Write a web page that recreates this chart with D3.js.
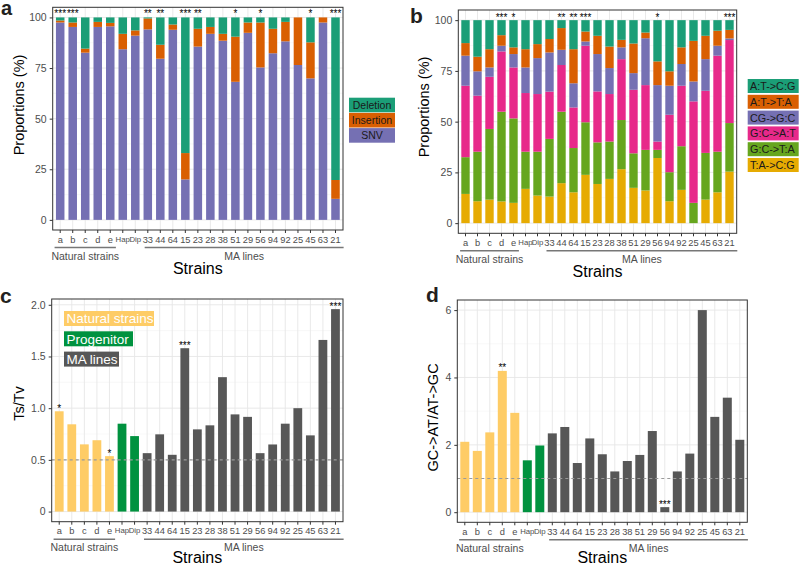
<!DOCTYPE html>
<html>
<head>
<meta charset="utf-8">
<script src="https://cdn.jsdelivr.net/npm/d3@7"></script>
<style>
  body { margin: 0; background: #fff; }
  svg { font-family: "Liberation Sans", Arial, sans-serif; }
</style>
</head>
<body>
<div id="fig"></div>
<script>
// strains on the x axis, shared by all four panels
const strains = ["a","b","c","d","e","Hap","Dip","33","44","64","15","23","28","38","51","29","56","94","92","25","45","63","21"];
const strainGroup = ["Natural strains","Natural strains","Natural strains","Natural strains","Natural strains",
  "Progenitor","Progenitor",
  "MA lines","MA lines","MA lines","MA lines","MA lines","MA lines","MA lines","MA lines",
  "MA lines","MA lines","MA lines","MA lines","MA lines","MA lines","MA lines","MA lines"];

// panel a: proportions (%)
const snv       = [97.5,95.3,82.6,95.3,95.6,84.3,91.0,94.1,79.6,93.9,20.0,85.6,91.9,88.5,68.2,92.4,75.3,82.3,88.2,76.5,69.9,97.5,10.4];
const insertion = [1.0,2.2,2.0,2.5,1.7,7.6,2.6,5.4,6.9,2.6,13.0,8.8,3.4,3.4,22.3,5.1,22.2,12.1,9.6,23.5,17.8,2.5,9.3];
const deletion  = [1.5,2.5,15.4,2.2,2.7,8.1,6.4,0.5,13.5,3.5,67.0,5.6,4.7,8.1,9.5,2.5,2.5,5.6,2.2,0.0,12.3,0.0,80.3];
const starsA = ["***","***","","","","","","**","**","","***","**","","","*","","*","","","","*","","***"];

// panel b: proportions (%) of each substitution
const taCg = [14.4,10.8,11.6,10.7,10.0,16.9,13.6,13.1,19.7,15.2,23.8,19.3,21.8,26.6,17.4,16.1,32.1,10.8,16.4,0.0,11.6,15.2,25.4];
const gcTa = [18.1,24.4,34.8,44.2,41.6,18.3,21.6,28.4,35.2,21.8,25.9,20.5,18.4,24.2,17.0,20.0,4.0,14.3,21.5,10.0,23.0,20.0,23.9];
const gcAt = [35.2,27.6,25.7,29.7,25.1,28.9,28.4,23.3,23.0,20.0,37.7,25.1,23.4,30.0,31.3,31.9,4.1,28.3,29.8,50.0,30.6,47.3,40.9];
const cgGc = [14.8,12.0,4.6,2.8,6.6,12.6,17.7,19.3,7.5,11.9,2.1,18.4,12.8,5.8,8.2,23.1,27.8,14.3,10.7,9.8,15.6,4.9,0.8];
const atTa = [6.2,7.2,9.0,5.2,3.3,9.0,6.9,6.6,10.7,16.8,4.9,9.0,10.6,3.7,14.6,2.8,11.7,7.1,8.2,20.0,11.5,7.4,4.2];
const atCg = [11.3,18.0,14.3,7.4,13.4,14.3,11.8,9.3,3.9,14.3,5.6,7.7,13.0,9.7,11.5,6.1,20.3,25.2,13.4,10.2,7.7,5.2,4.8];
const starsB = ["","","","***","*","","","","**","**","***","","","","","","*","","","","","","***"];

// panel c: Ts/Tv
const tsTv = [0.97,0.844,0.65,0.69,0.536,0.85,0.73,0.565,0.747,0.549,1.58,0.795,0.834,1.30,0.94,0.916,0.565,0.649,0.85,1.0,0.737,1.66,1.958];
const starsC = ["*","","","","*","","","","","","***","","","","","","","","","","","","***"];

// panel d: GC->AT / AT->GC
const gcRatio = [2.09,1.82,2.37,4.195,2.95,1.54,1.98,2.34,2.53,1.46,2.19,1.72,1.21,1.52,1.70,2.41,0.15,1.21,1.74,6.0,2.83,3.4,2.15];
const starsD = ["","","","**","","","","","","","","","","","","","***","","","","","",""];

const W = 799, H = 567;
const svg = d3.select('#fig').append('svg').attr('width', W).attr('height', H);

const axisGrey = "#4d4d4d";

function makePanel(box, yDomain, yTicks, yMinor, yFmt) {
    const x = d3.scaleBand().domain(strains).range([box.left, box.right])
                .paddingInner(0).paddingOuter(0.1);
    const y = d3.scaleLinear().domain(yDomain).range([box.bottom, box.top]);
    const g = svg.append('g');

    g.append('rect')
        .attr('x', box.left).attr('y', box.top)
        .attr('width', box.right - box.left).attr('height', box.bottom - box.top)
        .attr('fill', '#fff');

    g.selectAll('.minor').data(yMinor).enter().append('line')
        .attr('x1', box.left).attr('x2', box.right)
        .attr('y1', d => y(d)).attr('y2', d => y(d))
        .attr('stroke', '#f3f3f3').attr('stroke-width', 0.6);
    g.selectAll('.major').data(yTicks).enter().append('line')
        .attr('x1', box.left).attr('x2', box.right)
        .attr('y1', d => y(d)).attr('y2', d => y(d))
        .attr('stroke', '#e6e6e6').attr('stroke-width', 0.9);
    g.selectAll('.vgrid').data(strains).enter().append('line')
        .attr('x1', d => x(d) + x.bandwidth() / 2).attr('x2', d => x(d) + x.bandwidth() / 2)
        .attr('y1', box.top).attr('y2', box.bottom)
        .attr('stroke', '#e6e6e6').attr('stroke-width', 0.9);

    const bars = svg.append('g');
    const top = svg.append('g');

    top.append('rect')
        .attr('x', box.left).attr('y', box.top)
        .attr('width', box.right - box.left).attr('height', box.bottom - box.top)
        .attr('fill', 'none').attr('stroke', '#333').attr('stroke-width', 1);

    const yAxis = d3.axisLeft(y).tickValues(yTicks).tickSize(3).tickPadding(3).tickFormat(yFmt);
    const ya = top.append('g').attr('transform', 'translate(' + box.left + ',0)').call(yAxis);
    ya.select('.domain').remove();
    ya.selectAll('line').attr('stroke', '#333');
    ya.selectAll('text').attr('fill', axisGrey).style('font-size', '10.5px');

    const xAxis = d3.axisBottom(x).tickSize(3).tickPadding(3);
    const xa = top.append('g').attr('transform', 'translate(0,' + box.bottom + ')').call(xAxis);
    xa.select('.domain').remove();
    xa.selectAll('line').attr('stroke', '#333');
    xa.selectAll('text').attr('fill', axisGrey)
        .style('font-size', d => (d === 'Hap' || d === 'Dip') ? '7.8px' : '9.3px');

    // group brackets under the axis
    const s = x.step();
    const cx = d => x(d) + x.bandwidth() / 2;
    const lineY = box.bottom + 17.5;
    const nat = [cx('a') - 0.45 * s, cx('e') + 0.45 * s];
    const ma = [cx('33') - 0.25 * s, cx('21') + 0.65 * s];
    [nat, ma].forEach((r, i) => {
        top.append('line')
            .attr('x1', r[0]).attr('x2', r[1]).attr('y1', lineY).attr('y2', lineY)
            .attr('stroke', '#777').attr('stroke-width', 1.5);
        top.append('text')
            .attr('x', (r[0] + r[1]) / 2).attr('y', box.bottom + 29.5)
            .attr('text-anchor', 'middle').attr('fill', axisGrey)
            .style('font-size', '10.5px')
            .text(i === 0 ? 'Natural strains' : 'MA lines');
    });
    top.append('text')
        .attr('x', (box.left + box.right) / 2).attr('y', Math.min(box.bottom + 44, 562.5))
        .attr('text-anchor', 'middle').style('font-size', '16px')
        .text('Strains');

    return {x, y, bars, top, cx};
}

function yTitle(text, x, y) {
    svg.append('text')
        .attr('transform', 'translate(' + x + ',' + y + ') rotate(-90)')
        .attr('text-anchor', 'middle').style('font-size', '14.5px')
        .text(text);
}

function letter(text, x, y, size) {
    svg.append('text').attr('x', x).attr('y', y)
        .style('font-size', (size || 21) + 'px').style('font-weight', 'bold').attr('fill', '#231f20')
        .text(text);
}

const pct = d3.format('d');

// ---------- panel a ----------
const pa = makePanel({left: 52.7, right: 343, top: 7.3, bottom: 230}, [-5, 105],
    [0, 25, 50, 75, 100], [12.5, 37.5, 62.5, 87.5], pct);
const aColors = {snv: "#7570B3", ins: "#D95F02", del: "#1B9E77"};
const aRows = strains.map((s, i) => ({strain: s, snv: snv[i], ins: insertion[i], del: deletion[i]}));
const aStack = d3.stack().keys(['snv', 'ins', 'del'])(aRows);
const bwA = pa.x.bandwidth() * 0.68;
pa.bars.selectAll('g').data(aStack).enter().append('g')
    .attr('fill', d => aColors[d.key])
    .selectAll('rect').data(d => d).enter().append('rect')
    .attr('x', d => pa.cx(d.data.strain) - bwA / 2)
    .attr('width', bwA)
    .attr('y', d => pa.y(d[1]))
    .attr('height', d => pa.y(d[0]) - pa.y(d[1]));
pa.top.selectAll('.star').data(starsA).enter().append('text')
    .attr('x', (d, i) => pa.cx(strains[i])).attr('y', pa.y(100) - 0.5)
    .attr('text-anchor', 'middle').style('font-size', '10px').text(d => d);
yTitle('Proportions (%)', 24, 105);
letter('a', 1, 15, 20);

const aLegend = [["Deletion", aColors.del], ["Insertion", aColors.ins], ["SNV", aColors.snv]];
aLegend.forEach((d, i) => {
    svg.append('rect').attr('x', 349).attr('y', 97.7 + i * 15.2).attr('width', 46).attr('height', 14.6)
        .attr('fill', d[1]);
    svg.append('text').attr('x', 372).attr('y', 97.7 + i * 15.2 + 11)
        .attr('text-anchor', 'middle').style('font-size', '10.5px').attr('fill', '#1a1a1a').text(d[0]);
});

// ---------- panel b ----------
const pb = makePanel({left: 458.3, right: 736.7, top: 10, bottom: 233.3}, [-5, 105],
    [0, 25, 50, 75, 100], [12.5, 37.5, 62.5, 87.5], pct);
const bKeys = ['taCg', 'gcTa', 'gcAt', 'cgGc', 'atTa', 'atCg'];
const bColors = {taCg: "#E6AB02", gcTa: "#66A61E", gcAt: "#E7298A", cgGc: "#7570B3", atTa: "#D95F02", atCg: "#1B9E77"};
const bLabels = {taCg: "T:A->C:G", gcTa: "G:C->T:A", gcAt: "G:C->A:T", cgGc: "CG->G:C", atTa: "A:T->T:A", atCg: "A:T->C:G"};
const bRows = strains.map((s, i) => ({strain: s, taCg: taCg[i], gcTa: gcTa[i], gcAt: gcAt[i],
    cgGc: cgGc[i], atTa: atTa[i], atCg: atCg[i]}));
const bStack = d3.stack().keys(bKeys)(bRows);
const bwB = pb.x.bandwidth() * 0.7;
pb.bars.selectAll('g').data(bStack).enter().append('g')
    .attr('fill', d => bColors[d.key])
    .selectAll('rect').data(d => d).enter().append('rect')
    .attr('x', d => pb.cx(d.data.strain) - bwB / 2)
    .attr('width', bwB)
    .attr('y', d => pb.y(d[1]))
    .attr('height', d => pb.y(d[0]) - pb.y(d[1]));
pb.top.selectAll('.star').data(starsB).enter().append('text')
    .attr('x', (d, i) => pb.cx(strains[i])).attr('y', pb.y(100) + 0.5)
    .attr('text-anchor', 'middle').style('font-size', '10px').text(d => d);
yTitle('Proportions (%)', 429, 107);
letter('b', 410, 23);

bKeys.slice().reverse().forEach((k, i) => {
    svg.append('rect').attr('x', 747.7).attr('y', 79 + i * 15.8).attr('width', 51).attr('height', 14)
        .attr('fill', bColors[k]);
    svg.append('text').attr('x', 750).attr('y', 79 + i * 15.8 + 11)
        .style('font-size', '10.8px').attr('fill', '#1a1a1a').text(bLabels[k]);
});

// ---------- panel c ----------
const groupColor = {"Natural strains": "#FECC66", "Progenitor": "#00923F", "MA lines": "#575757"};
const pc = makePanel({left: 51.7, right: 343, top: 299, bottom: 521.7}, [-0.098, 2.056],
    [0, 0.5, 1, 1.5, 2], [0.25, 0.75, 1.25, 1.75], d => d === 0 ? '0' : d3.format('.1f')(d));
const bwC = pc.x.bandwidth() * 0.7;
pc.bars.selectAll('rect').data(tsTv).enter().append('rect')
    .attr('x', (d, i) => pc.cx(strains[i]) - bwC / 2)
    .attr('width', bwC)
    .attr('y', d => pc.y(d))
    .attr('height', d => pc.y(0) - pc.y(d))
    .attr('fill', (d, i) => groupColor[strainGroup[i]]);
pc.bars.append('line')
    .attr('x1', 51.7).attr('x2', 343).attr('y1', pc.y(0.5)).attr('y2', pc.y(0.5))
    .attr('stroke', '#9a9a9a').attr('stroke-width', 1.2).attr('stroke-dasharray', '3,3');
pc.top.selectAll('.star').data(starsC).enter().append('text')
    .attr('x', (d, i) => pc.cx(strains[i])).attr('y', (d, i) => pc.y(tsTv[i]) + 0.5)
    .attr('text-anchor', 'middle').style('font-size', '10px').text(d => d);
yTitle('Ts/Tv', 24, 403.5);
letter('c', 0, 303);

const cLegend = [["Natural strains", 90], ["Progenitor", 69], ["MA lines", 55]];
cLegend.forEach((d, i) => {
    svg.append('rect').attr('x', 64).attr('y', 311 + i * 20.3).attr('width', d[1]).attr('height', 15)
        .attr('fill', groupColor[d[0]]);
    svg.append('text').attr('x', 66.5).attr('y', 311 + i * 20.3 + 12.3)
        .style('font-size', '13.5px').attr('fill', '#fff').text(d[0]);
});

// ---------- panel d ----------
const pd = makePanel({left: 457.3, right: 747.3, top: 300, bottom: 522.3}, [-0.3, 6.3],
    [0, 2, 4, 6], [1, 3, 5], d3.format('d'));
const bwD = pd.x.bandwidth() * 0.72;
pd.bars.selectAll('rect').data(gcRatio).enter().append('rect')
    .attr('x', (d, i) => pd.cx(strains[i]) - bwD / 2)
    .attr('width', bwD)
    .attr('y', d => pd.y(d))
    .attr('height', d => pd.y(0) - pd.y(d))
    .attr('fill', (d, i) => groupColor[strainGroup[i]]);
pd.bars.append('line')
    .attr('x1', 457.3).attr('x2', 747.3).attr('y1', pd.y(1)).attr('y2', pd.y(1))
    .attr('stroke', '#9a9a9a').attr('stroke-width', 1.2).attr('stroke-dasharray', '3,3');
pd.top.selectAll('.star').data(starsD).enter().append('text')
    .attr('x', (d, i) => pd.cx(strains[i])).attr('y', (d, i) => pd.y(gcRatio[i]) + 0.5)
    .attr('text-anchor', 'middle').style('font-size', '10px').text(d => d);
yTitle('GC->AT/AT->GC', 438, 417.5);
letter('d', 426, 302);
</script>
</body>
</html>
